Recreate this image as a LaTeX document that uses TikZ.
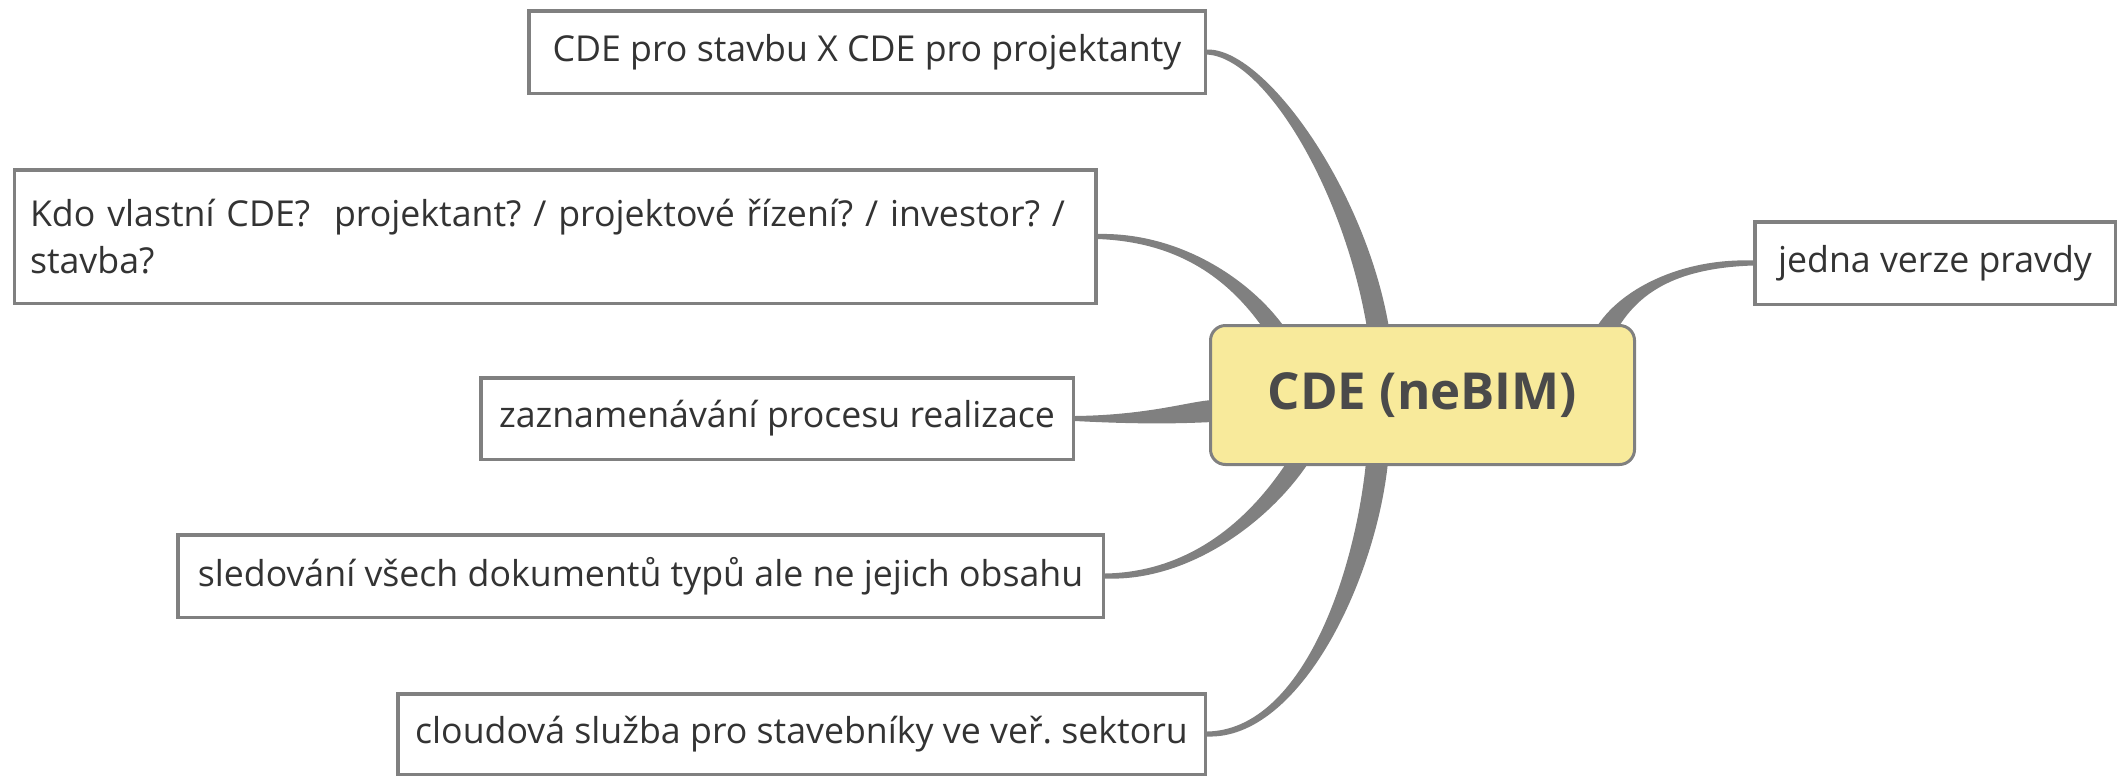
\documentclass[tikz,border=0pt]{standalone}
\usepackage{fontspec}
\setmainfont{Open Sans}
\usetikzlibrary{calc,backgrounds}
\definecolor{linegray}{HTML}{808080}
\definecolor{txtgray}{HTML}{333333}
\definecolor{cfill}{HTML}{F8EA9B}
\definecolor{ctext}{HTML}{4A4A4A}
\frenchspacing
% #1 thin end, #2 #3 controls, #4 thick end, #5 thin half-width vector, #6 thick half-width vector
\newcommand{\branchshape}[6]{%
  \fill[linegray] ($#1+#5$) .. controls ($#2+2*#5$) and ($#3+#6$) .. ($#4+#6$)
    -- ($#4-#6$) .. controls ($#3-#6$) and ($#2-2*#5$) .. ($#1-#5$) -- cycle;}
\begin{document}
\begin{tikzpicture}[x=1pt,y=-1pt,
  topicbox/.style={draw=linegray, line width=3.5pt, fill=white, text=txtgray,
     font=\fontsize{35.7}{47}\selectfont, inner sep=0pt},
  centralbox/.style={draw=linegray, line width=3pt, fill=cfill, rounded corners=15pt,
     text=ctext, font=\fontsize{51}{60}\selectfont\bfseries, inner sep=0pt,
     minimum width=424pt, minimum height=139pt}]
\useasboundingbox (0,0) rectangle (2125,777);
\node[centralbox] (c) at (1422.5,395) {CDE (neBIM)};
\node[topicbox, minimum width=676.5pt, minimum height=82.5pt] (b1) at (867,52) {CDE pro stavbu X CDE pro projektanty};
\node[topicbox, minimum width=1081.5pt, minimum height=133.5pt, text width=1050pt, align=left] (b2) at (555,236.5) {Kdo vlastní CDE?~ projektant? / projektové řízení? / investor? /\\ stavba?};
\node[topicbox, minimum width=592.5pt, minimum height=81.5pt] (b3) at (777,418.5) {zaznamenávání procesu realizace};
\node[topicbox, minimum width=925.5pt, minimum height=82.5pt] (b4) at (640.5,576) {sledování všech dokumentů typů ale ne jejich obsahu};
\node[topicbox, minimum width=807.5pt, minimum height=80.5pt] (b5) at (801.5,734) {cloudová služba pro stavebníky ve veř. sektoru};
\node[topicbox, minimum width=360.5pt, minimum height=82.5pt] (b6) at (1935,263) {jedna verze pravdy};
\coordinate (e1) at ($(c.north west)+(169,4)$);
\coordinate (e2) at ($(c.north west)+(65,4)$);
\coordinate (e3) at ($(c.north west)+(4,87)$);
\coordinate (e4) at ($(c.south west)+(89,-4)$);
\coordinate (e5) at ($(c.south west)+(168,-4)$);
\coordinate (e6) at ($(c.north west)+(398,4)$);
\begin{scope}[on background layer]
\branchshape{(b1.east)}{(1265,53)}{(1355,190)}{(e1)}{(0,2.5)}{(-11,0)}
\branchshape{(b2.east)}{(1180,237)}{(1240,280)}{(e2)}{(0,2.5)}{(-11,0)}
\branchshape{(b3.east)}{(1150,420)}{(1190,412)}{(e3)}{(0,2.5)}{(0,11)}
\branchshape{(b4.east)}{(1190,577)}{(1260,520)}{(e4)}{(0,2.5)}{(11,0)}
\branchshape{(b5.east)}{(1300,735)}{(1365,580)}{(e5)}{(0,2.5)}{(11,0)}
\branchshape{(b6.west)}{(1680,263)}{(1630,290)}{(e6)}{(0,2.5)}{(11,0)}
\end{scope}
\end{tikzpicture}
\end{document}
